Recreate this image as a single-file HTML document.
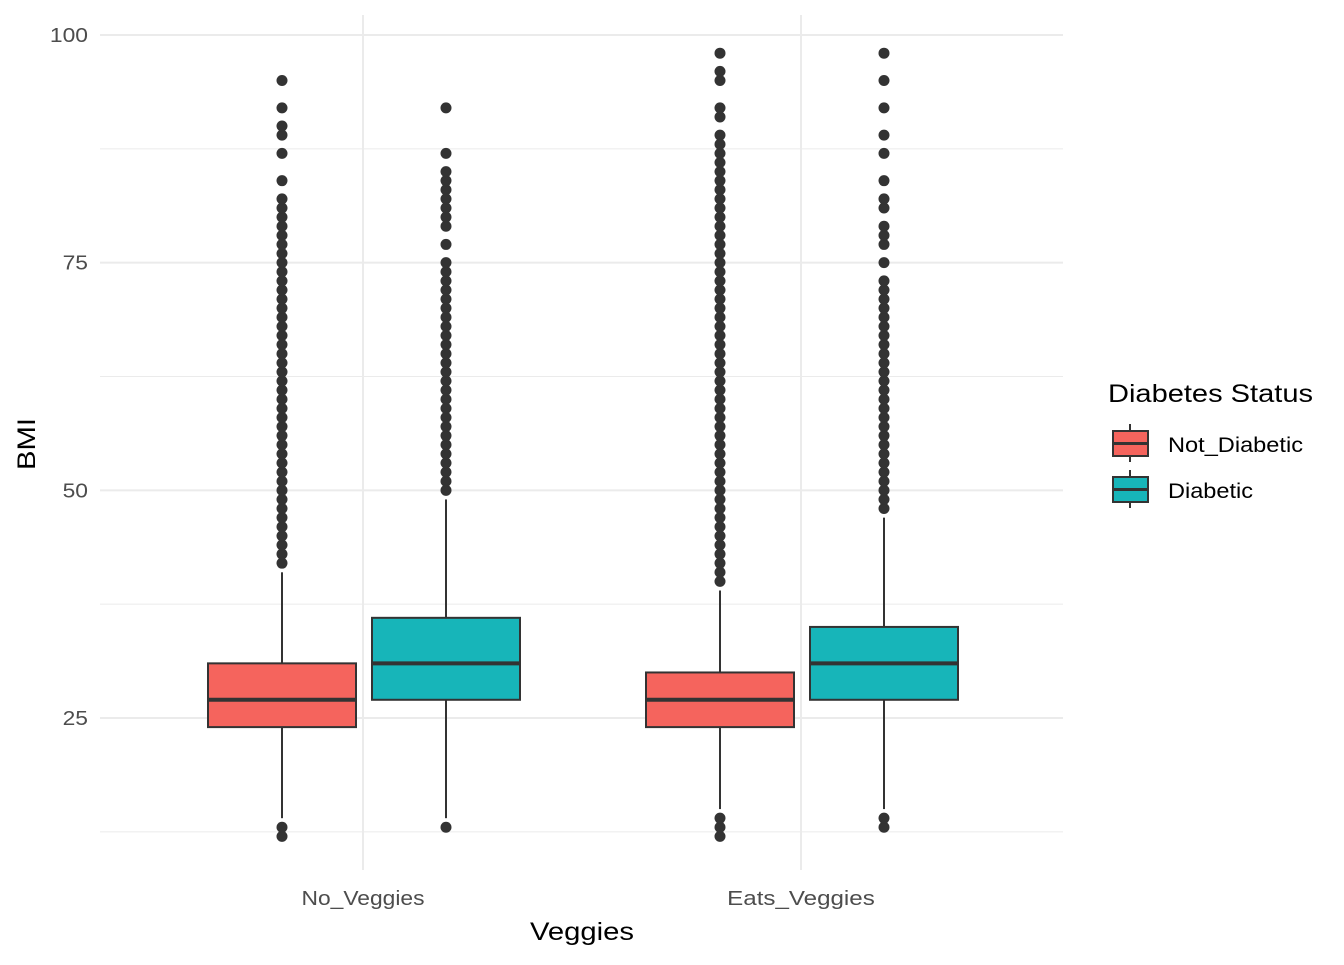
<!DOCTYPE html>
<html><head><meta charset="utf-8"><style>body{margin:0;background:#fff}svg{font-family:"Liberation Sans",sans-serif}</style></head>
<body>
<svg id="chart" width="1344" height="960" xmlns="http://www.w3.org/2000/svg"></svg>
<script>
const categories = ["No_Veggies","Eats_Veggies"];
const groups = ["Not_Diabetic","Diabetic"];
const colors = ["#F5645D","#17B5B9"];
const yTicks = [25,50,75,100];
const yMinor = [12.5,37.5,62.5,87.5];
// [category][group] = [lowWhisker, q1, median, q3, highWhisker]
const stats = [
  [[14,24,27,31,41],[14,27,31,36,49]],
  [[15,24,27,30,39],[15,27,31,35,47]]
];
function range(a,b){const r=[];for(let i=a;i<=b;i++)r.push(i);return r;}
const outliers = [
  [[12,13].concat(range(42,82),[84,87,89,90,92,95]),
   [13].concat(range(50,75),[77,79,80,81,82,83,84,85,87,92])],
  [[12,13,14].concat(range(40,89),[91,92,95,96,98]),
   [13,14].concat(range(48,73),[75,77,78,79,81,82,84,87,89,92,95,98])]
];
const svg=document.getElementById('chart');
const NS='http://www.w3.org/2000/svg';
function y(v){return 718-(v-25)*9.107;}
function x(ci){return 363+ci*438;}
const gOff=[-81,83], bw=148;
function el(t,a,p){const e=document.createElementNS(NS,t);for(const k in a)e.setAttribute(k,a[k]);(p||svg).appendChild(e);return e;}
yMinor.forEach(v=>{const l=el('line',{x1:100,x2:1063,y1:y(v),y2:y(v),stroke:'#ebebeb','stroke-width':1});

});
yTicks.forEach(v=>{const l=el('line',{x1:100,x2:1063,y1:y(v),y2:y(v),stroke:'#ebebeb','stroke-width':2});


const s=String(v);
const t=el('text',{x:88,y:y(v)+7,'text-anchor':'end','font-size':'20',fill:'#4d4d4d',textLength:s.length*12.7,lengthAdjust:'spacingAndGlyphs'});t.textContent=s;

});
categories.forEach((c,ci)=>{const l=el('line',{x1:x(ci),x2:x(ci),y1:15,y2:870,stroke:'#ebebeb','stroke-width':2});


const t=el('text',{x:x(ci),y:905,'text-anchor':'middle','font-size':'20',fill:'#4d4d4d',textLength:c.length*12.3,lengthAdjust:'spacingAndGlyphs'});t.textContent=c;

});
categories.forEach((c,ci)=>groups.forEach((g,gi)=>{
  const s=stats[ci][gi], cx=x(ci)+gOff[gi];
  const grp=el('g',{});
  
  
  el('line',{x1:cx,x2:cx,y1:y(s[0]),y2:y(s[1]),stroke:'#333','stroke-width':2},grp);
  el('line',{x1:cx,x2:cx,y1:y(s[3]),y2:y(s[4]),stroke:'#333','stroke-width':2},grp);
  el('rect',{x:cx-bw/2,y:y(s[3]),width:bw,height:y(s[1])-y(s[3]),fill:colors[gi],stroke:'#333','stroke-width':2},grp);
  el('line',{x1:cx-bw/2,x2:cx+bw/2,y1:y(s[2]),y2:y(s[2]),stroke:'#333','stroke-width':4},grp);
  outliers[ci][gi].forEach(v=>{const p=el('circle',{cx:cx,cy:y(v),r:5.5,fill:'#333'},grp);
  
  });
}));
</script>
<svg style="position:absolute;left:0;top:0" width="1344" height="960">
<text x="0" y="0" transform="translate(35,444) rotate(-90)" text-anchor="middle" font-size="25" fill="#000" textLength="52" lengthAdjust="spacingAndGlyphs">BMI</text>
<text x="582" y="940" text-anchor="middle" font-size="25" fill="#000" textLength="104" lengthAdjust="spacingAndGlyphs">Veggies</text>
<g>
<text x="1108" y="402" font-size="25" textLength="205" lengthAdjust="spacingAndGlyphs">Diabetes Status</text>
<g>
<line x1="1130" x2="1130" y1="424" y2="462" stroke="#333" stroke-width="2"/>
<rect x="1113" y="431" width="35" height="25" fill="#F5645D" stroke="#333" stroke-width="2"/>
<line x1="1113" x2="1148" y1="443.5" y2="443.5" stroke="#333" stroke-width="3"/>
<text x="1168" y="452" font-size="21" textLength="135" lengthAdjust="spacingAndGlyphs">Not_Diabetic</text></g>
<g>
<line x1="1130" x2="1130" y1="470" y2="508" stroke="#333" stroke-width="2"/>
<rect x="1113" y="477" width="35" height="25" fill="#17B5B9" stroke="#333" stroke-width="2"/>
<line x1="1113" x2="1148" y1="489.5" y2="489.5" stroke="#333" stroke-width="3"/>
<text x="1168" y="498" font-size="21" textLength="85" lengthAdjust="spacingAndGlyphs">Diabetic</text></g>
</g>
</svg>
</body></html>
